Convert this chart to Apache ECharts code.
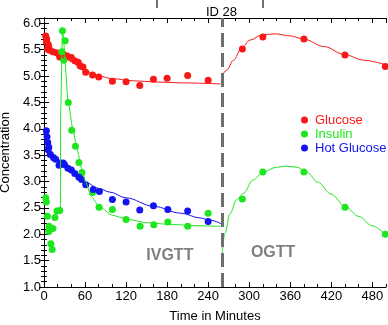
<!DOCTYPE html>
<html>
<head>
<meta charset="utf-8">
<script src="https://cdn.jsdelivr.net/npm/echarts@6/dist/echarts.min.js"></script>
<style>
  html, body { margin: 0; padding: 0; background: #fff; }
  #chart { width: 388px; height: 325px; }
</style>
</head>
<body>
<div id="chart"></div>
<script>
// measured samples [minutes, concentration]
const glucosePoints = [
  [2.5, 5.76], [4, 5.70], [3.5, 5.65], [6, 5.60], [7, 5.55], [5, 5.51], [8, 5.49], [13, 5.46],
  [18, 5.44], [22, 5.41], [23, 5.36], [29, 5.41], [34, 5.38], [40, 5.35], [45, 5.29], [50, 5.26],
  [53, 5.19], [57, 5.17], [61, 5.07], [71, 5.02], [80, 4.98], [100, 4.90], [120, 4.89],
  [140, 4.82], [160, 4.94], [180, 4.96], [210, 5.01], [240, 4.92],
  [290, 5.51], [320, 5.74], [380, 5.70], [440, 5.40], [499, 5.18]
];
const insulinPoints = [
  [2.5, 2.69], [3.5, 2.61], [5, 2.34], [7.5, 2.15], [7, 2.05], [13, 2.11], [10, 1.82], [12, 1.71],
  [16, 2.32], [19, 2.44], [23, 2.45], [26, 5.46], [27, 5.86], [29, 5.30], [31, 5.67], [35.5, 4.50],
  [40.5, 3.97], [46, 3.67], [51, 3.36], [55.5, 3.17], [71, 2.79], [80.5, 2.51], [100, 2.47],
  [120, 2.28], [140.5, 2.15], [160.5, 2.18], [181, 2.23], [210, 2.15], [240, 2.40],
  [290, 2.67], [320, 3.18], [380, 3.18], [440, 2.51], [499, 2.00]
];
const hotGlucosePoints = [
  [3.5, 3.96], [4.5, 3.85], [5.5, 3.74], [7, 3.65], [6, 3.60], [9, 3.51], [14, 3.45], [17, 3.42],
  [22, 3.31], [24, 3.35], [28, 3.35], [30, 3.32], [35, 3.25], [40, 3.22], [45, 3.15], [51, 3.08],
  [55, 3.04], [61, 2.94], [72, 2.85], [81, 2.81], [100, 2.66], [120, 2.61], [140, 2.46],
  [160, 2.54], [181, 2.47], [210, 2.44], [240, 2.24]
];
// fitted model curves
const glucoseFitIv = [
  [0, 5.72], [5, 5.58], [10, 5.50], [20, 5.41], [30, 5.34], [40, 5.27], [50, 5.19], [60, 5.10],
  [80, 5.00], [100, 4.95], [130, 4.91], [160, 4.89], [200, 4.87], [258, 4.85]
];
const glucoseFitOg = [
  [260, 5.00], [267, 5.11], [277, 5.30], [289, 5.53], [301, 5.68], [319, 5.78], [338, 5.80],
  [360, 5.76], [380, 5.70], [409, 5.56], [439, 5.41], [467, 5.30], [500, 5.21]
];
const insulinFitIv = [
  [20, 2.43], [24, 2.46], [24.3, 4.30], [27, 5.87], [36, 4.45], [42.5, 3.97], [48, 3.63],
  [55, 3.25], [60, 3.02], [69, 2.72], [81, 2.52], [100, 2.36], [120, 2.29], [150, 2.22],
  [180, 2.19], [228, 2.16], [258, 2.15]
];
const insulinFitOg = [
  [260, 1.54], [264.5, 2.02], [272, 2.39], [281.5, 2.65], [291, 2.77], [306, 3.03], [320, 3.18],
  [340, 3.27], [355, 3.29], [370, 3.27], [385, 3.17], [400, 2.99], [420, 2.76], [440, 2.53],
  [460, 2.34], [480, 2.16], [500, 1.98]
];
const hotGlucoseFit = [
  [0, 3.92], [5, 3.72], [10, 3.58], [20, 3.42], [30, 3.31], [40, 3.20], [50, 3.09], [60, 2.99],
  [80, 2.87], [96, 2.80], [120, 2.69], [160, 2.53], [200, 2.40], [228, 2.31], [242, 2.27], [259, 2.20]
];
const seriesNames = ['Glucose', 'Insulin', 'Hot Glucose'];
const phaseSplit = 260;
const phaseLabels = [['IVGTT', 184, 1.59], ['OGTT', 335, 1.645]];

const RED = '#f81818', GREEN = '#1ee61e', BLUE = '#1414f0';
const colors = [RED, GREEN, BLUE];
const FONT = '"Liberation Sans", Arial, sans-serif';

const chart = echarts.init(document.getElementById('chart'), null, { renderer: 'canvas' });

const xBase = { type: 'value', min: 0, max: 500, splitLine: { show: false } };
const yBase = { type: 'value', min: 1.0, max: 6.1, splitLine: { show: false } };
const line = { show: true, lineStyle: { color: '#000', width: 1 } };
const tick = (len) => ({ show: true, inside: true, length: len, lineStyle: { color: '#000', width: 1 } });

const scatter = (name, data, color) => ({
  name, type: 'scatter', data, symbolSize: 7, itemStyle: { color, opacity: 1 }, z: 2
});
const fit = (data, color, extra) => Object.assign({
  type: 'line', data, showSymbol: false, smooth: 0.35, smoothMonotone: 'x',
  lineStyle: { color, width: 1 }, z: 3, silent: true
}, extra || {});

chart.setOption({
  animation: false,
  textStyle: { fontFamily: FONT },
  title: {
    text: 'ID 28', left: 201, top: 1,
    textStyle: { fontSize: 13, fontWeight: 'normal', color: '#000', fontFamily: FONT }
  },
  grid: { left: 44, right: 2, top: 18, bottom: 38, containLabel: false, outerBoundsMode: 'none' },
  legend: {
    orient: 'vertical', left: 296, top: 108, icon: 'circle',
    itemWidth: 7, itemHeight: 7, itemGap: 0,
    textStyle: { fontSize: 13, lineHeight: 14, padding: [0, 0, 0, 2], fontFamily: FONT },
    data: seriesNames.map((n, i) => ({ name: n, textStyle: { color: colors[i] } }))
  },
  xAxis: [
    Object.assign({}, xBase, {
      position: 'bottom', interval: 60, axisLine: line, axisTick: tick(5),
      axisLabel: { fontSize: 13, color: '#000', margin: 3, showMaxLabel: false },
      name: 'Time in Minutes', nameLocation: 'middle', nameGap: 23,
      nameTextStyle: { fontSize: 13, color: '#000' }
    }),
    Object.assign({}, xBase, {
      position: 'bottom', interval: 20, axisLine: { show: false }, axisTick: tick(3), axisLabel: { show: false }
    }),
    Object.assign({}, xBase, {
      position: 'top', interval: 60, axisLine: line, axisTick: tick(5), axisLabel: { show: false }
    }),
    Object.assign({}, xBase, {
      position: 'top', interval: 20, axisLine: { show: false }, axisTick: tick(3), axisLabel: { show: false }
    })
  ],
  yAxis: [
    Object.assign({}, yBase, {
      position: 'left', interval: 0.5, axisLine: line, axisTick: tick(5),
      axisLabel: { fontSize: 13, color: '#000', margin: 3, showMaxLabel: false, formatter: (v) => v.toFixed(1) },
      name: 'Concentration', nameLocation: 'middle', nameGap: 28,
      nameTextStyle: { fontSize: 13, color: '#000' }
    }),
    Object.assign({}, yBase, {
      position: 'left', interval: 0.1, axisLine: { show: false }, axisTick: tick(3), axisLabel: { show: false }
    }),
    Object.assign({}, yBase, {
      position: 'right', interval: 0.5, axisLine: line, axisTick: tick(5), axisLabel: { show: false }
    }),
    Object.assign({}, yBase, {
      position: 'right', interval: 0.1, axisLine: { show: false }, axisTick: tick(3), axisLabel: { show: false }
    })
  ],
  series: [
    scatter(seriesNames[0], glucosePoints, RED),
    scatter(seriesNames[1], insulinPoints, GREEN),
    scatter(seriesNames[2], hotGlucosePoints, BLUE),
    fit(glucoseFitIv, RED),
    fit(glucoseFitOg, RED),
    fit(hotGlucoseFit, BLUE),
    fit(insulinFitIv, GREEN, { smooth: 0.2 }),
    fit(insulinFitOg, GREEN, {
      markPoint: {
        symbol: 'circle', symbolSize: 0, silent: true,
        label: { show: true, position: 'inside', fontSize: 16, fontWeight: 'bold', color: '#808080', fontFamily: FONT, formatter: (p) => p.name },
        data: phaseLabels.map(([n, t, v]) => ({ name: n, coord: [t, v] }))
      },
      markLine: {
        silent: true, symbol: ['none', 'none'], label: { show: false },
        lineStyle: { color: '#6e6e6e', width: 3, type: [14, 6] },
        data: [{ xAxis: phaseSplit }]
      }
    })
  ],
  graphic: [
    { type: 'line', shape: { x1: 157, y1: 0, x2: 157, y2: 8 }, style: { stroke: '#222', lineWidth: 1.3 } },
    { type: 'line', shape: { x1: 263, y1: 0, x2: 263, y2: 8 }, style: { stroke: '#222', lineWidth: 1.3 } }
  ]
});
</script>
</body>
</html>
